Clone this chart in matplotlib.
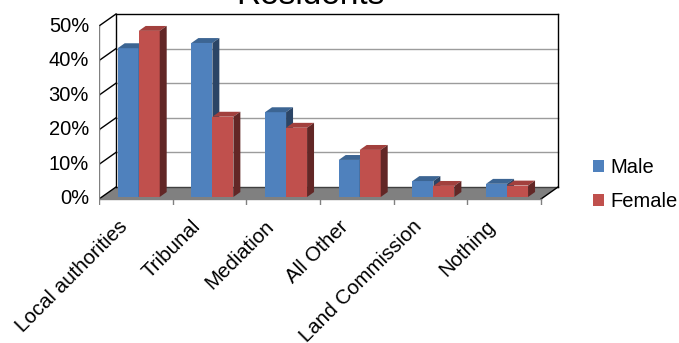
import numpy as np
import matplotlib
matplotlib.use("Agg")
import matplotlib.pyplot as plt
from matplotlib.patches import Polygon, Patch

plt.rcParams['font.family'] = ['Liberation Sans', 'DejaVu Sans']

# 資料
categories = ["Local authorities", "Tribunal", "Mediation", "All Other",
              "Land Commission", "Nothing"]
male = [43, 44.5, 24.5, 10.7, 4.6, 3.8]
female = [48, 23.2, 20, 13.6, 3.2, 3.3]
yticks = [0, 10, 20, 30, 40, 50]
ytick_labels = ["0%", "10%", "20%", "30%", "40%", "50%"]

# 顏色 (front, top, side)
male_cols = ("#4F81BD", "#3C6593", "#2B4566")
female_cols = ("#C0504D", "#A2403D", "#622726")

W, H = 679, 343
fig = plt.figure(figsize=(W / 100, H / 100), dpi=100)

# 像素對應: 前方平面 x=99 -> 0, 每類 73.67px; y=199 -> 0%, 每 % 3.46px
px_x = 73.67
px_y = 3.46
left_px, right_px, top_px, bot_px = 99, 560, 10, 205
ax = fig.add_axes([left_px / W, (H - bot_px) / H,
                   (right_px - left_px) / W, (bot_px - top_px) / H])
ax.set_xlim(0, (right_px - left_px) / px_x)
ax.set_ylim(-(bot_px - 199) / px_y, (199 - top_px) / px_y)
ax.axis('off')

n = len(categories)
dx = 17 / px_x        # 深度偏移 (x)
dy = 12 / px_y        # 深度偏移 (y, %)
ymax = yticks[-1]

# 地板
ax.add_patch(Polygon([(0, 0), (dx, dy), (n + dx, dy), (n, 0)], closed=True,
                     facecolor="#808080", edgecolor="none", zorder=1))
ax.plot([dx, n + dx], [dy, dy], color="#404040", lw=1, zorder=2)
ax.plot([n, n + dx], [0, dy], color="black", lw=1, zorder=2)

# 背牆格線
for t in yticks[1:-1]:
    ax.plot([dx, n + dx], [t + dy, t + dy], color="#9c9c9c", lw=1, zorder=1)
ax.plot([dx, n + dx], [ymax + dy, ymax + dy], color="black", lw=1, zorder=2)
ax.plot([dx, dx], [dy, ymax + dy], color="black", lw=1, zorder=2)
ax.plot([n + dx, n + dx], [dy, ymax + dy], color="black", lw=1, zorder=2)

# 左側牆斜線與 y 軸
for t, lab in zip(yticks, ytick_labels):
    ax.plot([0, dx], [t, t + dy], color="black", lw=1, zorder=2)
    ax.plot([-3 / px_x, 0], [t, t], color="#808080", lw=1, zorder=2)
    ax.text(-10 / px_x, t, lab, ha='right', va='center', fontsize=14.5)
ax.plot([0, 0], [0, ymax], color="#808080", lw=1, zorder=2)

# x 軸
ax.plot([0, n], [0, 0], color="#808080", lw=1, zorder=2)
for i in range(n + 1):
    ax.plot([i, i], [0, -5 / px_y], color="#808080", lw=1, zorder=2)
for i, lab in enumerate(categories):
    ax.text(i + 0.5 - 5 / px_x, -18 / px_y, lab, rotation=45,
            ha='right', va='top', fontsize=14.8)

# 3D 長條
f0, f1 = 0.17, 0.58
w = 21 / px_x
x = np.arange(n) + 0.5 + dx * f0
base = dy * f0
ddx = dx * (f1 - f0)
ddy = dy * (f1 - f0)


def bars3d(xc, vals, cols, z):
    ax.bar(xc, vals, width=w, bottom=base, color=cols[0], zorder=z)
    for xi, v in zip(xc, vals):
        xl, xr = xi - w / 2, xi + w / 2
        top = v + base
        ax.add_patch(Polygon([(xl, top), (xr, top), (xr + ddx, top + ddy),
                              (xl + ddx, top + ddy)], closed=True,
                             facecolor=cols[1], edgecolor="none", zorder=z))
        ax.add_patch(Polygon([(xr, base), (xr, top), (xr + ddx, top + ddy),
                              (xr + ddx, base + ddy)], closed=True,
                             facecolor=cols[2], edgecolor="none", zorder=z))


bars3d(x - w / 2, male, male_cols, 3)
bars3d(x + w / 2, female, female_cols, 4)

# 標題 (上方被裁切)
fig.text(310 / W, (H - 4) / H, "Residents", ha='center', va='baseline',
         fontsize=24)

# 圖例
handles = [Patch(facecolor=male_cols[0]), Patch(facecolor=female_cols[0])]
fig.legend(handles, ["Male", "Female"], loc='center left',
           bbox_to_anchor=(593 / W, (H - 184.5) / H), frameon=False,
           fontsize=14.5, handlelength=0.55, handleheight=0.55,
           handletextpad=0.3, borderpad=0, borderaxespad=0, labelspacing=0.75)

fig.savefig("out.png", dpi=100)
